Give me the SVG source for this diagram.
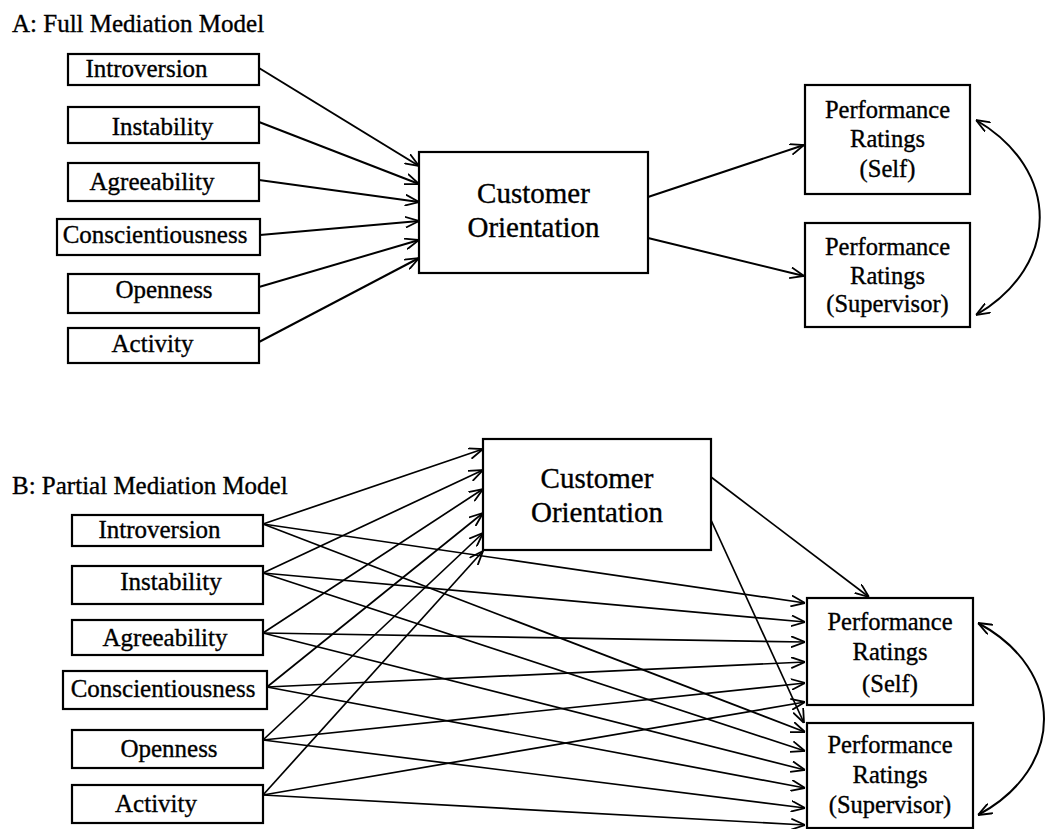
<svg xmlns="http://www.w3.org/2000/svg" width="1046" height="829" viewBox="0 0 1046 829">
  <style>
    .box { fill: #fff; stroke: #000; stroke-width: 2.2; }
    .t { font-family: "Liberation Serif", "Times New Roman", serif; font-size: 25px; fill: #000; stroke: #000; stroke-width: 0.35; }
    .tc { text-anchor: middle; }
    .big { font-size: 29px; }
    .perf { font-size: 24.5px; }
    .edge { fill: none; stroke: #000; stroke-width: 2; marker-end: url(#arr); }
    .edgeB { fill: none; stroke: #000; stroke-width: 1.7; marker-end: url(#arr); }
    .cov { fill: none; stroke: #000; stroke-width: 2; marker-start: url(#arr); marker-end: url(#arr); }
  </style>
  <defs>
    <marker id="arr" viewBox="0 0 14 12" refX="14" refY="6" markerWidth="14" markerHeight="12" markerUnits="userSpaceOnUse" orient="auto-start-reverse">
      <path d="M0,0.5 L14,6 L0,11.5" fill="none" stroke="#000" stroke-width="1.8"/>
    </marker>
  </defs>
  <rect width="1046" height="829" fill="#fff"/>

  <!-- Panel A: full mediation -->
  <text class="t" x="12" y="32">A: Full Mediation Model</text>

  <g id="connectors-a">
    <line class="edge" x1="259" y1="68" x2="419" y2="166"/>
    <line class="edge" x1="259" y1="122" x2="419" y2="184"/>
    <line class="edge" x1="259" y1="180" x2="419" y2="202"/>
    <line class="edge" x1="260" y1="235" x2="419" y2="221"/>
    <line class="edge" x1="259" y1="287" x2="419" y2="240"/>
    <line class="edge" x1="259" y1="342" x2="419" y2="258"/>
    <line class="edge" x1="648" y1="197" x2="804" y2="145"/>
    <line class="edge" x1="648" y1="238" x2="804" y2="276"/>
    <path class="cov" d="M976,120 C1061,170 1061,265 976,315"/>
  </g>

  <g id="a-introversion"><rect class="box" x="68" y="54" width="191" height="31"/><text class="t tc" x="146.5" y="77">Introversion</text></g>
  <g id="a-instability"><rect class="box" x="68" y="107" width="191" height="36"/><text class="t tc" x="162.5" y="135">Instability</text></g>
  <g id="a-agreeability"><rect class="box" x="68" y="163" width="191" height="38"/><text class="t tc" x="152" y="190">Agreeability</text></g>
  <g id="a-conscientiousness"><rect class="box" x="57" y="219" width="203" height="36"/><text class="t tc" x="155" y="243">Conscientiousness</text></g>
  <g id="a-openness"><rect class="box" x="68" y="274" width="191" height="39"/><text class="t tc" x="164" y="298">Openness</text></g>
  <g id="a-activity"><rect class="box" x="68" y="328" width="191" height="35"/><text class="t tc" x="152.5" y="352">Activity</text></g>

  <g id="a-customer-orientation">
    <rect class="box" x="419" y="152" width="229" height="121"/>
    <text class="t tc big" x="533.5" y="203">Customer</text>
    <text class="t tc big" x="533.5" y="237">Orientation</text>
  </g>
  <g id="a-perf-self">
    <rect class="box" x="805" y="85" width="165" height="109"/>
    <text class="t tc perf" x="887.5" y="118">Performance</text>
    <text class="t tc perf" x="887.5" y="147">Ratings</text>
    <text class="t tc perf" x="887.5" y="177">(Self)</text>
  </g>
  <g id="a-perf-supervisor">
    <rect class="box" x="805" y="223" width="165" height="104"/>
    <text class="t tc perf" x="887.5" y="255">Performance</text>
    <text class="t tc perf" x="887.5" y="284">Ratings</text>
    <text class="t tc perf" x="887.5" y="312">(Supervisor)</text>
  </g>

  <!-- Panel B: partial mediation -->
  <text class="t" x="12" y="494">B: Partial Mediation Model</text>

  <g id="connectors-b">
    <!-- predictors to customer orientation -->
    <line class="edgeB" x1="263" y1="524" x2="483" y2="449"/>
    <line class="edgeB" x1="263" y1="573" x2="483" y2="470"/>
    <line class="edgeB" x1="263" y1="633" x2="483" y2="489"/>
    <line class="edgeB" x1="267" y1="687" x2="483" y2="513"/>
    <line class="edgeB" x1="263" y1="740" x2="483" y2="533"/>
    <line class="edgeB" x1="263" y1="795" x2="483" y2="551"/>
    <!-- predictors to self ratings -->
    <line class="edgeB" x1="263" y1="524" x2="805" y2="603"/>
    <line class="edgeB" x1="263" y1="573" x2="805" y2="622"/>
    <line class="edgeB" x1="263" y1="633" x2="805" y2="642"/>
    <line class="edgeB" x1="267" y1="687" x2="805" y2="662"/>
    <line class="edgeB" x1="263" y1="740" x2="805" y2="683"/>
    <line class="edgeB" x1="263" y1="795" x2="805" y2="702"/>
    <!-- predictors to supervisor ratings -->
    <line class="edgeB" x1="263" y1="524" x2="805" y2="732"/>
    <line class="edgeB" x1="263" y1="573" x2="805" y2="751"/>
    <line class="edgeB" x1="263" y1="633" x2="805" y2="770"/>
    <line class="edgeB" x1="267" y1="687" x2="805" y2="788"/>
    <line class="edgeB" x1="263" y1="740" x2="805" y2="808"/>
    <line class="edgeB" x1="263" y1="795" x2="805" y2="825"/>
    <!-- mediator to outcomes -->
    <line class="edgeB" x1="711" y1="477" x2="869" y2="597"/>
    <line class="edgeB" x1="711" y1="520" x2="804" y2="723"/>
    <path class="cov" d="M978,623 C1066,670 1066,768 978,815"/>
  </g>

  <g id="b-introversion"><rect class="box" x="72" y="515" width="191" height="31"/><text class="t tc" x="159.5" y="538">Introversion</text></g>
  <g id="b-instability"><rect class="box" x="72" y="566" width="191" height="38"/><text class="t tc" x="171" y="590">Instability</text></g>
  <g id="b-agreeability"><rect class="box" x="72" y="620" width="191" height="35"/><text class="t tc" x="165" y="646">Agreeability</text></g>
  <g id="b-conscientiousness"><rect class="box" x="63" y="671" width="204" height="38"/><text class="t tc" x="163" y="697">Conscientiousness</text></g>
  <g id="b-openness"><rect class="box" x="72" y="730" width="191" height="38"/><text class="t tc" x="169" y="757">Openness</text></g>
  <g id="b-activity"><rect class="box" x="72" y="785" width="191" height="38"/><text class="t tc" x="156" y="812">Activity</text></g>

  <g id="b-customer-orientation">
    <rect class="box" x="483" y="439" width="228" height="111"/>
    <text class="t tc big" x="597" y="488">Customer</text>
    <text class="t tc big" x="597" y="522">Orientation</text>
  </g>
  <g id="b-perf-self">
    <rect class="box" x="807" y="598" width="166" height="107"/>
    <text class="t tc perf" x="890" y="630">Performance</text>
    <text class="t tc perf" x="890" y="660">Ratings</text>
    <text class="t tc perf" x="890" y="692">(Self)</text>
  </g>
  <g id="b-perf-supervisor">
    <rect class="box" x="807" y="723" width="166" height="105"/>
    <text class="t tc perf" x="890" y="753">Performance</text>
    <text class="t tc perf" x="890" y="783">Ratings</text>
    <text class="t tc perf" x="890" y="813">(Supervisor)</text>
  </g>
</svg>
